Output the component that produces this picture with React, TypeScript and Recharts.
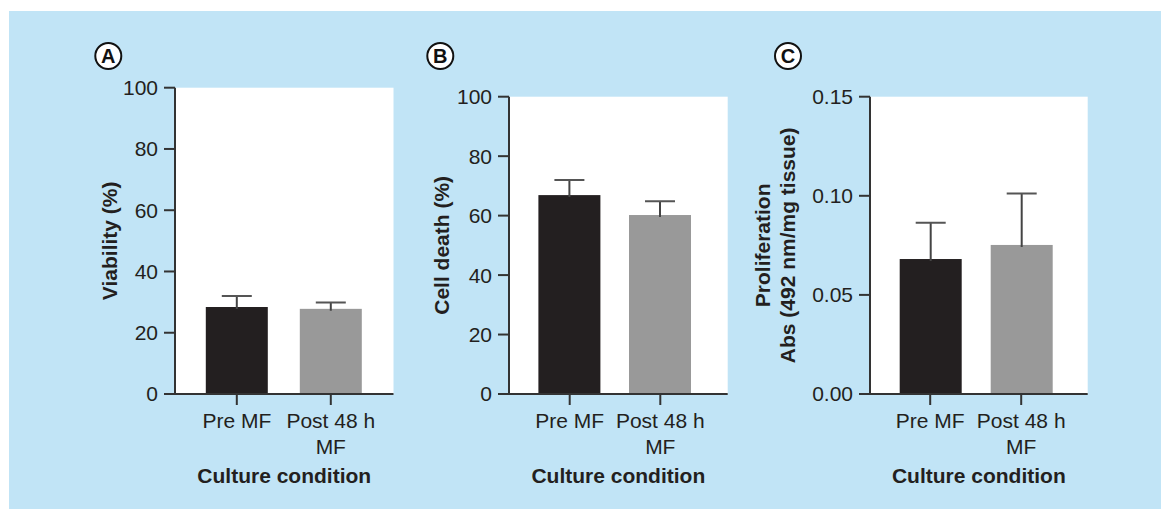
import React from "react";
import { BarChart, Bar, XAxis, YAxis, CartesianGrid, Cell, Label } from "recharts";

const categories = ["Pre MF", "Post 48 h\nMF"];
const barColors = ["#231f20", "#999999"];

const viabilityMean = [28.4, 27.8];
const viabilityErr = [3.6, 2.1];
const cellDeathMean = [66.9, 60.2];
const cellDeathErr = [5.1, 4.6];
const prolifMean = [0.0681, 0.0752];
const prolifErr = [0.0183, 0.0259];

const percentTicks = [0, 20, 40, 60, 80, 100];
const prolifTicks = [0, 0.05, 0.1, 0.15];

const FONT = '"Liberation Sans", Arial, Helvetica, sans-serif';
const TEXT = "#231f20";
const AXIS = "#333333";
const W = 1161;
const H = 509;

const build = (means: number[], errs: number[]) =>
  categories.map((name, i) => ({ name, mean: means[i], err: errs[i] }));

const BarWithError = (props: any) => {
  const { x, y, width, height, payload, index } = props;
  const fill = barColors[index % barColors.length];
  const perUnit = payload.mean ? height / payload.mean : 0;
  const top = y - payload.err * perUnit;
  const cx = x + width / 2;
  return (
    <g>
      <rect x={x} y={y} width={width} height={height} fill={fill} />
      <line x1={cx} x2={cx} y1={y + 2} y2={top} stroke="#444" strokeWidth={2} />
      <line x1={cx - 15} x2={cx + 15} y1={top} y2={top} stroke="#555" strokeWidth={2} />
    </g>
  );
};

const XTick = (props: any) => {
  const { x, y, payload } = props;
  const lines = String(payload.value).split("\n");
  return (
    <text x={x} y={y} textAnchor="middle" fill={TEXT} fontFamily={FONT} fontSize={21}>
      {lines.map((l, i) => (
        <tspan key={i} x={x} y={y + 21 + i * 26}>
          {l}
        </tspan>
      ))}
    </text>
  );
};

const xLabel = (props: any) => {
  const vb = props.viewBox;
  return (
    <text
      x={vb.x + vb.width / 2}
      y={vb.y + 89}
      textAnchor="middle"
      fill={TEXT}
      fontFamily={FONT}
      fontSize={21}
      fontWeight="bold"
    >
      Culture condition
    </text>
  );
};

const makeYLabel = (lines: string[], offsets: number[]) => (props: any) => {
  const vb = props.viewBox;
  const axisX = vb.x + vb.width;
  const cy = vb.y + vb.height / 2;
  return (
    <g>
      {lines.map((l, i) => (
        <text
          key={i}
          x={axisX - offsets[i]}
          y={cy}
          transform={`rotate(-90 ${axisX - offsets[i]} ${cy})`}
          textAnchor="middle"
          fill={TEXT}
          fontFamily={FONT}
          fontSize={21}
          fontWeight="bold"
        >
          {l}
        </text>
      ))}
    </g>
  );
};

type PanelProps = {
  data: { name: string; mean: number; err: number }[];
  ticks: number[];
  domain: [number, number];
  left: number;
  right: number;
  top: number;
  padL: number;
  padR: number;
  yLines: string[];
  yOffsets: number[];
  fmt?: (v: number) => string;
};

const Panel = (p: PanelProps) => (
  <div style={{ position: "absolute", left: 0, top: 0 }}>
    <BarChart
      width={W}
      height={H}
      data={p.data}
      margin={{ left: p.left - 60, right: W - p.right, top: p.top, bottom: H - 394 - 90 }}
      barCategoryGap={0}
    >
      <CartesianGrid horizontal={false} vertical={false} fill="#ffffff" fillOpacity={1} stroke="none" />
      <XAxis
        dataKey="name"
        type="category"
        interval={0}
        height={90}
        padding={{ left: p.padL, right: p.padR }}
        tickSize={11}
        tickMargin={2}
        axisLine={{ stroke: AXIS, strokeWidth: 2 }}
        tickLine={{ stroke: AXIS, strokeWidth: 2 }}
        tick={<XTick />}
      >
        <Label content={xLabel} />
      </XAxis>
      <YAxis
        width={60}
        type="number"
        domain={p.domain}
        ticks={p.ticks}
        interval={0}
        allowDataOverflow
        tickSize={11}
        tickMargin={6}
        axisLine={{ stroke: AXIS, strokeWidth: 2 }}
        tickLine={{ stroke: AXIS, strokeWidth: 2 }}
        tick={{ fill: TEXT, fontSize: 21, fontFamily: FONT }}
        tickFormatter={p.fmt}
      >
        <Label content={makeYLabel(p.yLines, p.yOffsets)} />
      </YAxis>
      <Bar dataKey="mean" barSize={62} isAnimationActive={false} shape={<BarWithError />}>
        {p.data.map((_, i) => (
          <Cell key={i} fill={barColors[i]} />
        ))}
      </Bar>
    </BarChart>
  </div>
);

const panelLetters = [
  { t: "A", cx: 108.3, cy: 56 },
  { t: "B", cx: 440.3, cy: 56 },
  { t: "C", cx: 788, cy: 56 },
];

export default function App() {
  return (
    <div
      style={{
        position: "absolute",
        left: 0,
        top: 0,
        width: W,
        height: H,
        background: "#ffffff",
        overflow: "hidden",
        fontFamily: FONT,
      }}
    >
      <div style={{ position: "absolute", left: 9, top: 11, right: 0, bottom: 0, background: "#c1e4f6" }} />
      <Panel
        data={build(viabilityMean, viabilityErr)}
        ticks={percentTicks}
        domain={[0, 100]}
        left={175}
        right={393.5}
        top={87.7}
        padL={14.8}
        padR={15.7}
        yLines={["Viability (%)"]}
        yOffsets={[58]}
      />
      <Panel
        data={build(cellDeathMean, cellDeathErr)}
        ticks={percentTicks}
        domain={[0, 100]}
        left={509}
        right={727.7}
        top={96.7}
        padL={15.4}
        padR={22.1}
        yLines={["Cell death (%)"]}
        yOffsets={[60]}
      />
      <Panel
        data={build(prolifMean, prolifErr)}
        ticks={prolifTicks}
        domain={[0, 0.15]}
        left={870}
        right={1087.7}
        top={96.7}
        padL={14.7}
        padR={21}
        yLines={["Proliferation", "Abs (492 nm/mg tissue)"]}
        yOffsets={[100, 75]}
        fmt={(v: number) => v.toFixed(2)}
      />
      <svg width={W} height={H} style={{ position: "absolute", left: 0, top: 0, pointerEvents: "none" }}>
        {panelLetters.map((l) => (
          <g key={l.t}>
            <circle cx={l.cx} cy={l.cy} r={13} fill="#ffffff" stroke="#111" strokeWidth={2} />
            <text
              x={l.cx}
              y={l.cy + 7}
              textAnchor="middle"
              fontFamily={FONT}
              fontWeight="bold"
              fontSize={20}
              fill="#111"
            >
              {l.t}
            </text>
          </g>
        ))}
      </svg>
    </div>
  );
}
